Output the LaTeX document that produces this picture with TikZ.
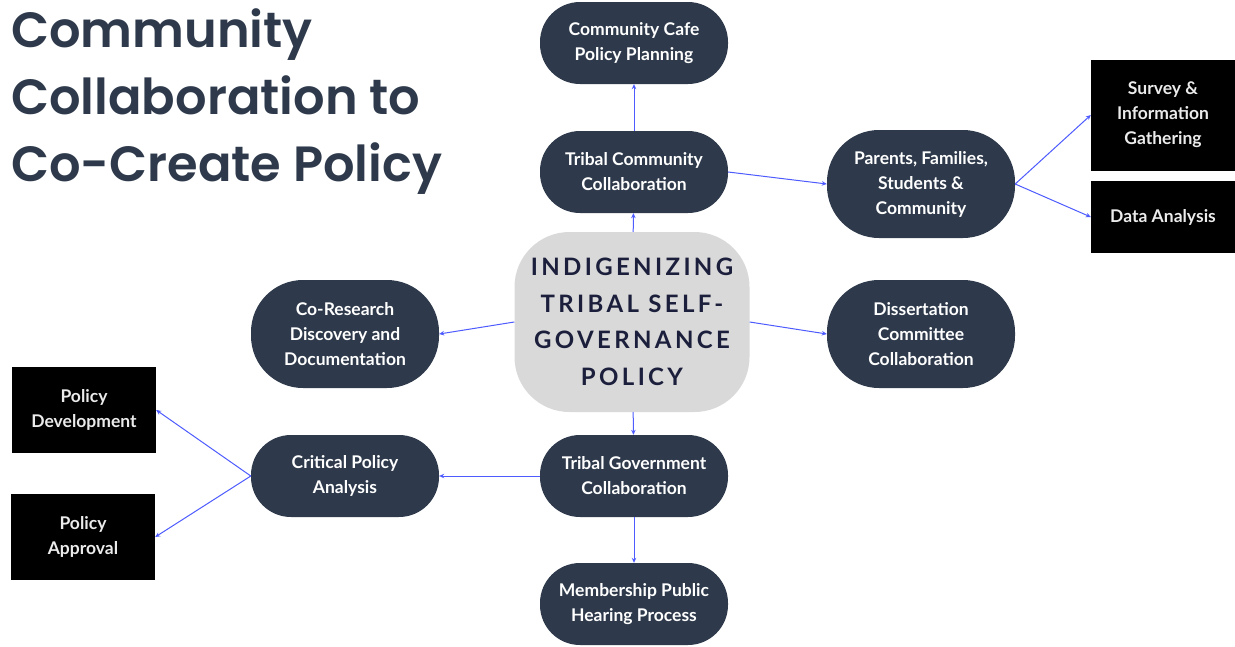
\documentclass[tikz,border=0pt]{standalone}
\usepackage{fontspec}
\setmainfont{Lato}
\newfontfamily\titlefont{Poppins}[UprightFont=* SemiBold]
\newfontfamily\hubfont{Lato}[LetterSpace=14]
\usetikzlibrary{arrows.meta}

\definecolor{slate}{RGB}{46,58,75}
\definecolor{hubgray}{RGB}{217,217,217}
\definecolor{hubtext}{RGB}{27,31,59}
\definecolor{linkblue}{RGB}{77,91,255}

\begin{document}
\begin{tikzpicture}[x=1pt, y=-1pt,
  pill/.style = {shape=rectangle, rounded corners=40pt,
    fill=slate, text=white, align=center, inner sep=0pt,
    minimum width=188pt, minimum height=82pt,
    font=\bfseries\fontsize{17.5}{25}\selectfont},
  tallpill/.style = {pill, minimum height=108pt, rounded corners=52pt},
  blackbox/.style = {shape=rectangle, fill=black, text=white!92!black,
    align=center, inner sep=0pt, minimum width=144pt,
    font=\bfseries\fontsize{17.5}{25}\selectfont},
  link/.style = {draw=linkblue, line width=1pt,
    -{Stealth[length=5pt,width=4.5pt]}}]
  \useasboundingbox (0,0) rectangle (1235,646);

  \node[anchor=north west, inner sep=0pt, align=left, text=slate,
    font=\titlefont\fontsize{49.5}{67}\selectfont] (title) at (11,8)
    {Community\\Collaboration to\\Co-Create Policy};

  % hub
  \node[shape=rectangle, rounded corners=55pt, fill=hubgray, text=hubtext,
    minimum width=235pt, minimum height=180pt, align=center, inner sep=0pt,
    font=\hubfont\bfseries\fontsize{24}{36.5}\selectfont] (hub) at (632,322)
    {INDIGENIZING\\TRIBAL SELF-\\GOVERNANCE\\POLICY};

  % upper branch
  \node[pill] (tribalcomm) at (634,172) {Tribal Community\\Collaboration};
  \node[pill] (cafe) at (634,43) {Community Cafe\\Policy Planning};
  \node[tallpill] (parents) at (921,184) {Parents, Families,\\Students \&\\Community};
  \node[blackbox, minimum height=111pt] (survey) at (1163,115) {Survey \&\\Information\\Gathering};
  \node[blackbox, minimum height=72pt] (data) at (1163,217) {Data Analysis};

  % sides
  \node[tallpill] (research) at (345,334) {Co-Research\\Discovery and\\Documentation};
  \node[tallpill] (committee) at (921,334) {Dissertation\\Committee\\Collaboration};

  % lower branch
  \node[pill] (tribalgov) at (634,476) {Tribal Government\\Collaboration};
  \node[pill] (hearing) at (634,604) {Membership Public\\Hearing Process};
  \node[pill] (critical) at (345,476) {Critical Policy\\Analysis};
  \node[blackbox, minimum height=86pt] (develop) at (84,410) {Policy\\Development};
  \node[blackbox, minimum height=86pt] (approve) at (83,537) {Policy\\Approval};

  % connectors
  \draw[link] (hub) -- (tribalcomm);
  \draw[link] (tribalcomm) -- (cafe);
  \draw[link] (tribalcomm.east) -- (parents.west);
  \draw[link] (parents.east) -- (survey.west);
  \draw[link] (parents.east) -- (data.west);
  \draw[link] (hub.west) -- (research.east);
  \draw[link] (hub.east) -- (committee.west);
  \draw[link] (hub) -- (tribalgov);
  \draw[link] (tribalgov) -- (hearing);
  \draw[link] (tribalgov) -- (critical);
  \draw[link] (critical.west) -- (develop.east);
  \draw[link] (critical.west) -- (approve.east);
\end{tikzpicture}
\end{document}
